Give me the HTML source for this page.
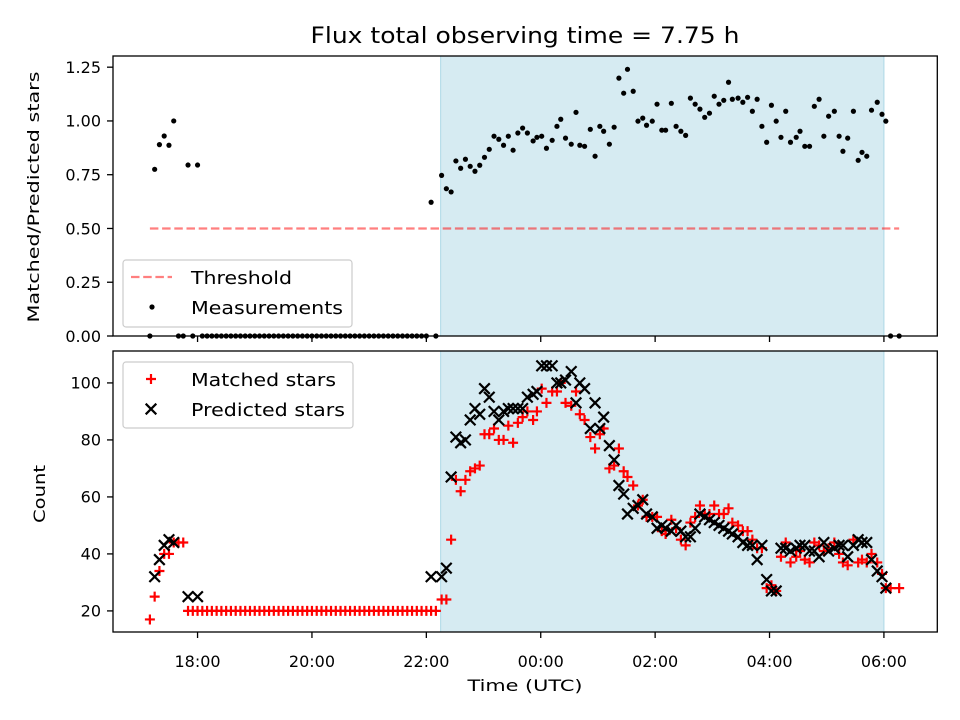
<!DOCTYPE html>
<html><head><meta charset="utf-8"><style>
html,body{margin:0;padding:0;background:#fff;}
svg{display:block;font-family:"DejaVu Sans","Liberation Sans",sans-serif;}
</style></head><body>
<svg id="chart" width="960" height="720" viewBox="0 0 960 720"></svg>
<script>
// minutes after 17:00 UTC
const times = [10,15,20,25,30,35,40,45,50,55,60,
65,70,75,80,85,90,95,100,105,110,115,120,125,130,135,140,145,150,155,160,165,170,175,180,185,190,195,200,205,210,215,220,225,230,235,240,245,250,255,260,265,270,275,280,285,290,295,300,
305,310,316,321,326,
331,336,341,346,351,356,361,366,371,376,381,386,391,396,401,406,
412,416,421,426,432,437,441,446,452,457,461,466,472,477,482,486,492,497,502,507,511,517,522,527,531,537,542,547,551,557,562,
567,572,577,582,587,592,597,602,607,612,617,621,627,632,637,642,647,652,657,662,667,672,677,682,688,692,697,702,707,712,717,722,728,733,737,742,748,753,757,762,767,773,778,782,787,796];
const ratios = [0,.775,.89,.93,.887,1.0,0,0,.795,0,.795,
0,0,0,0,0,0,0,0,0,0,0,0,0,0,0,0,0,0,0,0,0,0,0,0,0,0,0,0,0,0,0,0,0,0,0,0,0,0,0,0,0,0,0,0,0,0,0,0,
.622,0,.747,.685,.67,
.814,.78,.822,.789,.766,.794,.831,.868,.929,.915,.887,.929,.864,.944,.967,.944,
.907,.924,.929,.873,.91,.975,1.008,.92,.892,1.04,.887,.882,.961,.836,.975,.952,.892,.971,1.199,1.129,1.24,1.138,.999,1.013,.98,.999,1.078,.957,.957,1.082,.975,
.952,.933,1.106,1.078,1.055,1.017,1.036,1.115,1.078,1.096,1.18,1.101,1.106,1.087,1.11,1.045,1.101,.975,.901,1.073,.999,.924,1.045,.901,.924,.952,.882,.882,1.068,1.101,.929,1.022,1.045,.929,.859,.92,1.045,.817,.854,.836,1.05,1.087,1.031,.999,0,0];
const matched = [17,25,34,40,40,44,44,44,20,20,20,
20,20,20,20,20,20,20,20,20,20,20,20,20,20,20,20,20,20,20,20,20,20,20,20,20,20,20,20,20,20,20,20,20,20,20,20,20,20,20,20,20,20,20,20,20,20,20,20,
20,20,24,24,45,
66,62,66,69,70,71,82,82,84,80,80,85,79,86,88,90,
87,90,98,93,97,97,100,93,92,97,89,87,81,77,82,84,70,71,77,69,67,64,57,59,53,53,53,48,47,52,49,
45,43,51,53,57,54,54,57,54,54,56,51,50,48,48,45,42,42,28,29,27,39,44,37,39,41,38,37,44,43,41,42,44,40,37,36,45,37,38,37,40,37,33,28,28,28];
const predicted = [null,32,38,43,45,44,null,null,25,null,25,
null,null,null,null,null,null,null,null,null,null,null,null,null,null,null,null,null,null,null,null,null,null,null,null,null,null,null,null,null,null,null,null,null,null,null,null,null,null,null,null,null,null,null,null,null,null,null,null,
32,null,32,35,67,
81,79,80,87,91,89,98,95,90,87,90,91,91,91,91,95,
96,97,106,106,106,100,100,101,104,93,100,98,84,93,84,88,78,73,64,61,54,56,57,59,54,53,49,50,49,48,50,
48,46,46,49,54,53,52,51,50,49,48,47,46,44,43,43,38,43,31,27,27,42,42,41,42,43,43,41,41,39,44,41,42,43,43,39,43,45,44,44,38,34,32,28,null,null];
const threshold = [0.5];
const thresholdSpan = [10, 796];
const shadeSpan = [315, 780];
const xTickMinutes = [60,180,300,420,540,660,780];
const xTickLabels = ["18:00","20:00","22:00","00:00","02:00","04:00","06:00"];
const ratioTicks = [0,0.25,0.5,0.75,1.0,1.25];
const ratioTickLabels = ["0.00","0.25","0.50","0.75","1.00","1.25"];
const countTicks = [20,40,60,80,100];
const countTickLabels = ["20","40","60","80","100"];

const NS="http://www.w3.org/2000/svg";
const svg=document.getElementById('chart');
const L=113,R=937.3,tMin=-28.7,tMax=836;
const T1=56,B1=336,T2=351,B2=632;
const FS=16;
function xS(t){return L+(t-tMin)*(R-L)/(tMax-tMin);}
function yR(v){return B1-v*(B1-T1)/1.302;}
function yC(c){return B2-(c-12.6)*(B2-T2)/(111.2-12.6);}
function mk(tag,attrs,parent){const e=document.createElementNS(NS,tag);for(const k in attrs)e.setAttribute(k,attrs[k]);(parent||svg).appendChild(e);return e;}
function txt(s,attrs,parent){const e=mk('text',attrs,parent);e.textContent=s;return e;}

// title
const title=txt("Flux total observing time = 7.75 h",{x:525,y:43,'text-anchor':'middle','font-size':22,fill:'#000',textLength:429,lengthAdjust:'spacingAndGlyphs'});



function panel(top,bot,name){
  const g=mk('g',{});
  
  
  const sh=mk('rect',{x:xS(shadeSpan[0]),y:top,width:xS(shadeSpan[1])-xS(shadeSpan[0]),height:bot-top,fill:'#add8e6','fill-opacity':0.5,stroke:'#add8e6','stroke-width':1},g);
  
  
  return g;
}
function frame(top,bot,g){
  const f=mk('rect',{x:L,y:top,width:R-L,height:bot-top,fill:'none',stroke:'#000','stroke-width':1.3},g);
  
  
  xTickMinutes.forEach((t,i)=>{
    const tk=mk('line',{x1:xS(t),x2:xS(t),y1:bot,y2:bot+6,stroke:'#000','stroke-width':1.3},g);
    
    
  });
}

// ---------- top panel ----------
const g1=panel(T1,B1,'ratio-panel');
const th=mk('line',{x1:xS(thresholdSpan[0]),x2:xS(thresholdSpan[1]),y1:yR(threshold[0]),y2:yR(threshold[0]),stroke:'#ff0000','stroke-opacity':0.5,'stroke-width':2.2,'stroke-dasharray':'8.5,3.7'},g1);


times.forEach((t,i)=>{
  const c=mk('circle',{cx:xS(t),cy:yR(ratios[i]),r:2.6,fill:'#000'},g1);
  
  
});
frame(T1,B1,g1);
ratioTicks.forEach((v,i)=>{
  const y=yR(v);
  mk('line',{x1:L-6,x2:L,y1:y,y2:y,stroke:'#000','stroke-width':1.3},g1);
  const lb=txt(ratioTickLabels[i],{x:L-12,y:y+5.8,'text-anchor':'end','font-size':FS},g1);
  
  
});
const yl1=txt("Matched/Predicted stars",{x:0,y:0,'text-anchor':'middle','font-size':FS,textLength:251,lengthAdjust:'spacingAndGlyphs',transform:'translate(39,197) rotate(-90)'});


// legend top
const lg1=mk('g',{});


mk('rect',{x:123,y:260,width:229,height:67,rx:3,fill:'#fff','fill-opacity':0.8,stroke:'#ccc','stroke-width':1.2},lg1);
mk('line',{x1:131,x2:172,y1:277,y2:277,stroke:'#ff0000','stroke-opacity':0.5,'stroke-width':2.2,'stroke-dasharray':'8.5,3.7'},lg1);
const le1=txt("Threshold",{x:191,y:284,'font-size':18,textLength:101,lengthAdjust:'spacingAndGlyphs'},lg1);


mk('circle',{cx:152,cy:307,r:2.6,fill:'#000'},lg1);
const le2=txt("Measurements",{x:191,y:314,'font-size':18,textLength:152,lengthAdjust:'spacingAndGlyphs'},lg1);



// ---------- bottom panel ----------
const g2=panel(T2,B2,'count-panel');
function plus(x,y,parent){
  const p=mk('path',{d:`M${x-5},${y}H${x+5}M${x},${y-5}V${y+5}`,stroke:'#ff0000','stroke-width':2.2},parent);
  
  
}
function cross(x,y,parent){
  const p=mk('path',{d:`M${x-5.3},${y-5.3}L${x+5.3},${y+5.3}M${x-5.3},${y+5.3}L${x+5.3},${y-5.3}`,stroke:'#000','stroke-width':2.2},parent);
  
  
}
times.forEach((t,i)=>{ if(matched[i]!=null) plus(xS(t),yC(matched[i]),g2); });
times.forEach((t,i)=>{ if(predicted[i]!=null) cross(xS(t),yC(predicted[i]),g2); });
frame(T2,B2,g2);
countTicks.forEach((v,i)=>{
  const y=yC(v);
  mk('line',{x1:L-6,x2:L,y1:y,y2:y,stroke:'#000','stroke-width':1.3},g2);
  const lb=txt(countTickLabels[i],{x:L-12,y:y+5.8,'text-anchor':'end','font-size':FS},g2);
  
  
});
xTickMinutes.forEach((t,i)=>{
  const lb=txt(xTickLabels[i],{x:xS(t),y:667,'text-anchor':'middle','font-size':FS},g2);
  
  
});
const yl2=txt("Count",{x:0,y:0,'text-anchor':'middle','font-size':FS,textLength:58,lengthAdjust:'spacingAndGlyphs',transform:'translate(45,494) rotate(-90)'});


const xl=txt("Time (UTC)",{x:525,y:691,'text-anchor':'middle','font-size':FS,textLength:115,lengthAdjust:'spacingAndGlyphs'});


// legend bottom
const lg2=mk('g',{});


mk('rect',{x:123,y:362,width:230,height:66,rx:3,fill:'#fff','fill-opacity':0.8,stroke:'#ccc','stroke-width':1.2},lg2);
plus(151,379,lg2);
const le3=txt("Matched stars",{x:191,y:386,'font-size':18,textLength:145,lengthAdjust:'spacingAndGlyphs'},lg2);


cross(151,409,lg2);
const le4=txt("Predicted stars",{x:191,y:416,'font-size':18,textLength:154,lengthAdjust:'spacingAndGlyphs'},lg2);


</script>
</body></html>
